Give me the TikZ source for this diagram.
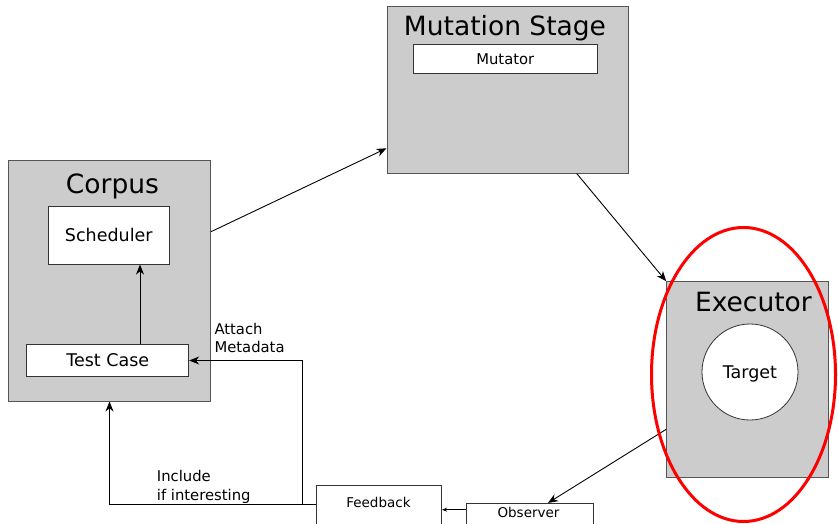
\documentclass[tikz,border=0pt]{standalone}
\usepackage{fontspec}
\setmainfont{DejaVu Sans}
\usetikzlibrary{arrows.meta}
\definecolor{stagegray}{HTML}{CCCCCC}
\definecolor{edgegray}{HTML}{555555}
\tikzset{
  stage/.style={draw=edgegray, fill=stagegray, line width=1pt, rectangle, inner sep=0pt},
  part/.style={draw=black!80, fill=white, line width=0.8pt, rectangle, inner sep=0pt},
  bigtitle/.style={font=\fontsize{26.5}{30}\selectfont, inner sep=0pt, anchor=base},
  midtext/.style={font=\fontsize{17.5}{21}\selectfont, text height=12.8pt, text depth=0pt},
  smalltext/.style={font=\fontsize{13.5}{16}\selectfont, inner sep=0pt, anchor=base},
  edgelabel/.style={font=\fontsize{14.8}{18.4}\selectfont, inner sep=0pt, anchor=base west, align=left},
  flow/.style={draw=black, line width=0.9pt, -{Stealth[length=10pt, width=8pt]}},
  smallflow/.style={draw=black, line width=0.9pt, -{Stealth[length=5pt, width=4pt]}},
}
\begin{document}
\begin{tikzpicture}[x=1pt, y=-1pt]
  \clip (0,0) rectangle (838,524);
  \fill[white] (0,0) rectangle (838,524);

  % Mutation stage
  \node[stage, minimum width=241pt, minimum height=166pt] (mutation) at (507.5,90) {};
  \node[bigtitle] (mutationtitle) at (505,35.7) {Mutation Stage};
  \node[part, minimum width=184pt, minimum height=29pt,
        font=\fontsize{14.8}{17}\selectfont, text height=10.8pt, text depth=0pt] (mutator) at (505.3,58.8) {Mutator};

  % Corpus
  \node[stage, minimum width=202pt, minimum height=240pt] (corpus) at (109.5,281) {};
  \node[bigtitle] (corpustitle) at (112.5,193.3) {Corpus};
  \node[part, midtext, minimum width=121pt, minimum height=58pt] (scheduler) at (108.8,235.2) {Scheduler};
  \node[part, midtext, minimum width=162pt, minimum height=32pt] (testcase) at (107.8,360.5) {Test Case};

  % Executor
  \node[stage, minimum width=162pt, minimum height=196pt] (executor) at (747.7,379.7) {};
  \node[bigtitle] (executortitle) at (753.4,311.7) {Executor};
  \node[part, midtext, circle, minimum size=96pt] (target) at (750,372) {Target};

  % Feedback and observer
  \node[part, minimum width=125.7pt, minimum height=41pt] (feedback) at (378.8,505.5) {};
  \node[smalltext] (feedbacktext) at (378.5,507.3) {Feedback};
  \node[part, minimum width=126.3pt, minimum height=22.7pt] (observer) at (530,514.7) {};
  \node[smalltext] (observertext) at (528.5,517.3) {Observer};

  % Connectors
  \draw[flow] ([yshift=49.3pt]corpus.east) -- ([yshift=-58.3pt]mutation.west);
  \draw[flow] ([xshift=69.2pt]mutation.south) -- (executor.north west);
  \draw[flow] ([yshift=-49.6pt]executor.west) -- ([xshift=18pt]observer.north);
  \draw[smallflow] ([yshift=5pt]observer.west) -- ([yshift=5pt]observer.west -| feedback.east);
  \draw[flow] ([yshift=1.5pt]feedback.west) -| (corpus.south);
  \coordinate (split) at (302.3,504);
  \draw[flow] (split) |- (testcase.east);
  \draw[flow] ([xshift=32.2pt]testcase.north) -- ([xshift=32.2pt]testcase.north |- scheduler.south);

  % Edge labels (anchored on the baseline of the last line)
  \node[edgelabel] (attachlabel) at (214.3,352.7) {Attach\\Metadata};
  \node[edgelabel] (includelabel) at (156.7,500) {Include\\if interesting};

  % Highlight around the executor
  \draw[red, line width=3pt] (743.5,374.5) ellipse [x radius=92pt, y radius=147pt];
\end{tikzpicture}
\end{document}
